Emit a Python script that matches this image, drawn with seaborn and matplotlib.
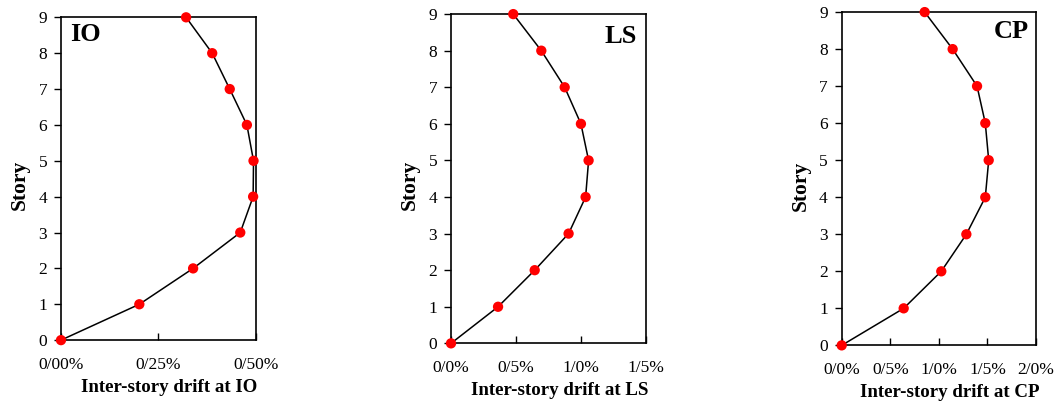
import numpy as np
import pandas as pd
import seaborn as sns
import matplotlib.pyplot as plt
from matplotlib.ticker import FixedLocator, FixedFormatter

sns.set_style('white')
plt.rcParams['font.family'] = ['Liberation Serif', 'DejaVu Serif']
plt.rcParams['text.color'] = 'black'
plt.rcParams['axes.labelcolor'] = 'black'

# story numbers and inter-story drift (%) for each performance level
stories = [0, 1, 2, 3, 4, 5, 6, 7, 8, 9]
drift_io = [0.0, 0.201, 0.339, 0.460, 0.493, 0.494, 0.477, 0.433, 0.388, 0.321]
drift_ls = [0.0, 0.362, 0.644, 0.905, 1.036, 1.059, 1.000, 0.875, 0.695, 0.479]
drift_cp = [0.0, 0.638, 1.025, 1.283, 1.478, 1.513, 1.478, 1.393, 1.142, 0.854]

levels = ['IO', 'LS', 'CP']
xticks_io = [0.0, 0.25, 0.5]
xlabels_io = ['0/00%', '0/25%', '0/50%']
xticks_ls = [0.0, 0.5, 1.0, 1.5]
xlabels_ls = ['0/0%', '0/5%', '1/0%', '1/5%']
xticks_cp = [0.0, 0.5, 1.0, 1.5, 2.0]
xlabels_cp = ['0/0%', '0/5%', '1/0%', '1/5%', '2/0%']

panels = [
    (drift_io, xticks_io, xlabels_io, [0.0576, 0.156, 0.184, 0.801], (0.046, 0.947, 'left')),
    (drift_ls, xticks_ls, xlabels_ls, [0.4259, 0.148, 0.184, 0.817], (0.954, 0.933, 'right')),
    (drift_cp, xticks_cp, xlabels_cp, [0.7948, 0.143, 0.1835, 0.827], (0.964, 0.943, 'right')),
]

fig = plt.figure(figsize=(10.59, 4.03), dpi=100)

for lvl, (drift, xt, xl, pos, (tx, ty, ha)) in zip(levels, panels):
    ax = fig.add_axes(pos)
    df = pd.DataFrame({'drift': drift, 'story': stories})
    sns.lineplot(data=df, x='drift', y='story', sort=False, estimator=None,
                 color='black', linewidth=1.1, ax=ax)
    sns.scatterplot(data=df, x='drift', y='story', color='#ff0000', s=55,
                    edgecolor='none', zorder=3, clip_on=False, ax=ax)
    ax.set_xlim(xt[0], xt[-1])
    ax.set_ylim(0, 9)
    ax.xaxis.set_major_locator(FixedLocator(xt))
    ax.xaxis.set_major_formatter(FixedFormatter(xl))
    ax.set_yticks(stories)
    ax.tick_params(axis='y', left=True, direction='out', length=5, width=1,
                   colors='black', labelsize=12.5, pad=5)
    ax.tick_params(axis='x', bottom=True, direction='in', length=5, width=1,
                   colors='black', labelsize=12.5, pad=12)
    for sp in ax.spines.values():
        sp.set_color('black')
        sp.set_linewidth(1.2)
    ax.set_xlabel(f'Inter-story drift at {lvl}', fontsize=13.6, fontweight='bold',
                  labelpad=4.5, color='black')
    ax.set_ylabel('Story', fontsize=15.5, fontweight='bold', labelpad=6, color='black')
    # Excel-style axis titles sit slightly off the centre of the plot area
    ax.xaxis.label.set_x(0.557)
    ax.yaxis.label.set_y(0.48)
    ax.text(tx, ty, lvl, transform=ax.transAxes, fontsize=19, fontweight='bold',
            ha=ha, va='center', color='black')

fig.savefig('out.png', dpi=100)
